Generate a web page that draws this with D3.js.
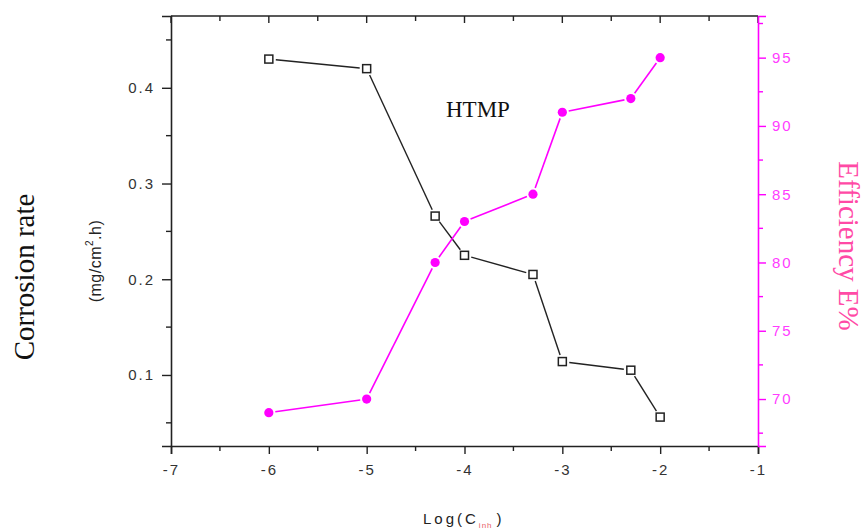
<!DOCTYPE html>
<html>
<head>
<meta charset="utf-8">
<script src="https://cdn.jsdelivr.net/npm/d3@7/dist/d3.min.js"></script>
<style>
  html, body { margin: 0; padding: 0; background: #fff; }
  svg { display: block; }
  .tick-label { font-family: "Liberation Sans", Arial, sans-serif; font-size: 15px; letter-spacing: 2px; }
</style>
</head>
<body>
<svg id="chart" width="868" height="532"></svg>
<script>
// Inhibitor concentration, log scale
const logConc = [-6, -5, -4.3, -4, -3.3, -3, -2.3, -2];
// Corrosion rate (mg/cm².h)
const corrosionRate = [0.43, 0.42, 0.266, 0.225, 0.205, 0.114, 0.105, 0.056];
// Inhibition efficiency (%)
const efficiency = [69, 70, 80, 83, 85, 91, 92, 95];

const xTicks = [-7, -6, -5, -4, -3, -2, -1];
const leftTicks = [0.1, 0.2, 0.3, 0.4];
const rightTicks = [70, 75, 80, 85, 90, 95];

const svg = d3.select("#chart");
const plotLeft = 171, plotRight = 758, plotTop = 16, plotBottom = 446;

const x = d3.scaleLinear().domain([-7, -1]).range([plotLeft, plotRight]);
const yL = d3.scaleLinear().domain([0.0258, 0.475]).range([plotBottom, plotTop]);
const yR = d3.scaleLinear().domain([66.56, 98.05]).range([plotBottom, plotTop]);

const ink = "#222";
const magenta = "#ff00ff";

// Minor tick positions
const xMinor = d3.range(-6.5, -1, 1);
const lMinor = [0.05, 0.15, 0.25, 0.35, 0.45];
const rMinor = [67.5, 72.5, 77.5, 82.5, 87.5, 92.5, 97.5];

// Bottom axis
const bottomAxis = d3.axisBottom(x).tickValues(xTicks).tickSize(8).tickFormat(d => String(d));
const gB = svg.append("g").attr("transform", `translate(0,${plotBottom})`).call(bottomAxis);
gB.select(".domain").attr("stroke", ink).attr("stroke-width", 1.6);
gB.selectAll(".tick line").attr("stroke", ink).attr("stroke-width", 1.4);
gB.selectAll(".tick text").attr("class", "tick-label").attr("fill", "#333").attr("dy", "1.2em");
svg.append("g").selectAll("line").data(xMinor).join("line")
  .attr("x1", d => x(d)).attr("x2", d => x(d)).attr("y1", plotBottom).attr("y2", plotBottom + 5)
  .attr("stroke", ink).attr("stroke-width", 1.4);

// Top spine with inward ticks
svg.append("line").attr("x1", plotLeft).attr("x2", plotRight).attr("y1", plotTop).attr("y2", plotTop)
  .attr("stroke", ink).attr("stroke-width", 1.6);
svg.append("g").selectAll("line").data(xTicks.concat(xMinor)).join("line")
  .attr("x1", d => x(d)).attr("x2", d => x(d)).attr("y1", plotTop)
  .attr("y2", d => plotTop + (Number.isInteger(d) ? 7 : 5))
  .attr("stroke", ink).attr("stroke-width", 1.4);

// Left axis
const leftAxis = d3.axisLeft(yL).tickValues(leftTicks).tickSize(9).tickFormat(d3.format(".1f"));
const gL = svg.append("g").attr("transform", `translate(${plotLeft},0)`).call(leftAxis);
gL.select(".domain").attr("stroke", ink).attr("stroke-width", 1.6);
gL.selectAll(".tick line").attr("stroke", ink).attr("stroke-width", 1.4);
gL.selectAll(".tick text").attr("class", "tick-label").attr("fill", "#333").attr("x", -16);
svg.append("g").selectAll("line").data(lMinor).join("line")
  .attr("x1", plotLeft - 5).attr("x2", plotLeft).attr("y1", d => yL(d)).attr("y2", d => yL(d))
  .attr("stroke", ink).attr("stroke-width", 1.4);

// Right axis (efficiency)
const rightAxis = d3.axisRight(yR).tickValues(rightTicks).tickSize(8).tickFormat(d3.format("d"));
const gR = svg.append("g").attr("transform", `translate(${plotRight},0)`).call(rightAxis);
gR.select(".domain").attr("stroke", magenta).attr("stroke-width", 1.6);
gR.selectAll(".tick line").attr("stroke", magenta).attr("stroke-width", 1.4);
gR.selectAll(".tick text").attr("class", "tick-label").attr("fill", "#ff3cff").attr("x", 14);
svg.append("g").selectAll("line").data(rMinor).join("line")
  .attr("x1", plotRight).attr("x2", plotRight + 5).attr("y1", d => yR(d)).attr("y2", d => yR(d))
  .attr("stroke", magenta).attr("stroke-width", 1.4);

// Connecting segments, trimmed so they stop short of the markers
function segments(xs, ys, sx, sy, gap) {
  const segs = [];
  for (let i = 0; i < xs.length - 1; i++) {
    const x1 = sx(xs[i]), y1 = sy(ys[i]), x2 = sx(xs[i + 1]), y2 = sy(ys[i + 1]);
    const len = Math.hypot(x2 - x1, y2 - y1);
    const ux = (x2 - x1) / len, uy = (y2 - y1) / len;
    segs.push({ x1: x1 + ux * gap, y1: y1 + uy * gap, x2: x2 - ux * gap, y2: y2 - uy * gap });
  }
  return segs;
}

// Corrosion-rate series: open squares
svg.append("g").selectAll("line").data(segments(logConc, corrosionRate, x, yL, 7)).join("line")
  .attr("x1", d => d.x1).attr("y1", d => d.y1).attr("x2", d => d.x2).attr("y2", d => d.y2)
  .attr("stroke", ink).attr("stroke-width", 1.4);
svg.append("g").selectAll("rect").data(logConc).join("rect")
  .attr("x", d => x(d) - 4).attr("y", (d, i) => yL(corrosionRate[i]) - 4)
  .attr("width", 8).attr("height", 8)
  .attr("fill", "#fff").attr("stroke", ink).attr("stroke-width", 1.5);

// Efficiency series: filled circles
svg.append("g").selectAll("line").data(segments(logConc, efficiency, x, yR, 6.5)).join("line")
  .attr("x1", d => d.x1).attr("y1", d => d.y1).attr("x2", d => d.x2).attr("y2", d => d.y2)
  .attr("stroke", magenta).attr("stroke-width", 1.6);
svg.append("g").selectAll("circle").data(logConc).join("circle")
  .attr("cx", d => x(d)).attr("cy", (d, i) => yR(efficiency[i]))
  .attr("r", 4.6).attr("fill", magenta);

// Annotation
svg.append("text").attr("x", 446).attr("y", 117)
  .attr("font-family", "'Liberation Serif', 'Times New Roman', serif").attr("font-size", 23)
  .attr("fill", "#111").text("HTMP");

// Left axis titles
svg.append("text").attr("transform", "translate(34,277) rotate(-90)").attr("text-anchor", "middle")
  .attr("font-family", "'Liberation Serif', 'Times New Roman', serif").attr("font-size", 29)
  .attr("fill", "#111").text("Corrosion rate");
const unit = svg.append("text").attr("transform", "translate(101,261) rotate(-90)").attr("text-anchor", "middle")
  .attr("font-family", "'Liberation Sans', Arial, sans-serif").attr("font-size", 16)
  .attr("letter-spacing", "0.5px").attr("fill", "#222");
unit.append("tspan").text("(mg/cm");
unit.append("tspan").attr("font-size", 10).attr("dy", -8).text("2");
unit.append("tspan").attr("dy", 8).text(".h)");

// Right axis title
svg.append("text").attr("transform", "translate(839,246) rotate(90)").attr("text-anchor", "middle")
  .attr("font-family", "'Liberation Serif', 'Times New Roman', serif").attr("font-size", 29)
  .attr("fill", "#ff4aa6").text("Efficiency E%");

// Bottom axis title
const xt = svg.append("text").attr("x", 423).attr("y", 524)
  .attr("font-family", "'Liberation Sans', Arial, sans-serif").attr("font-size", 15)
  .attr("letter-spacing", "3px").attr("fill", "#222");
xt.append("tspan").text("Log(C");
xt.append("tspan").attr("font-size", 8).attr("dy", 4).attr("fill", "#e8606a").attr("letter-spacing", "1px").text("inh");
xt.append("tspan").attr("dy", -4).attr("dx", 4).text(")");
</script>
</body>
</html>
